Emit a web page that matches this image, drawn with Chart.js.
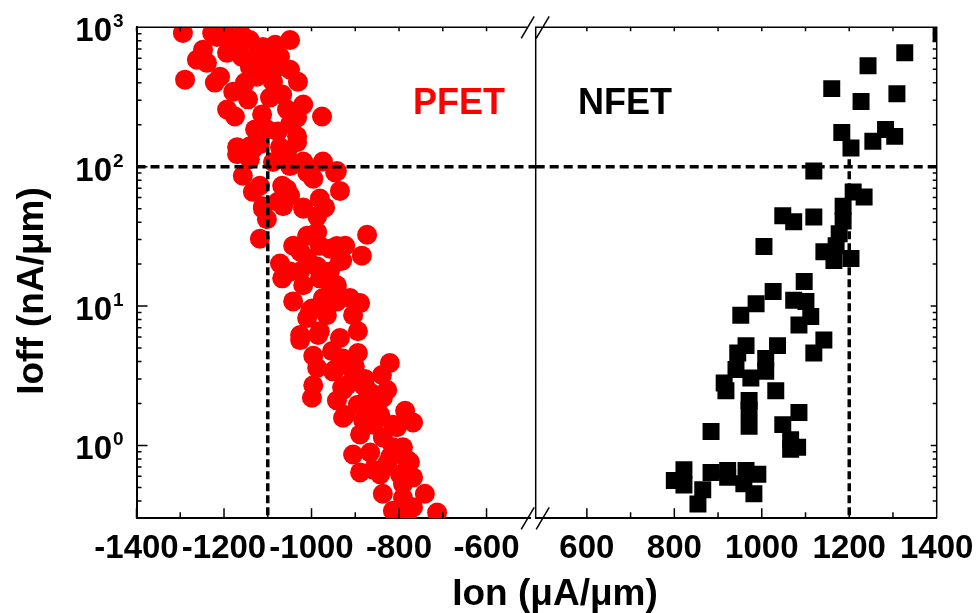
<!DOCTYPE html>
<html>
<head>
<meta charset="utf-8">
<script src="https://cdn.jsdelivr.net/npm/chart.js@4.4.1/dist/chart.umd.min.js"></script>
<style>
  body { margin: 0; background: #fff; }
  #wrap { position: relative; width: 978px; height: 613px; }
  #wrap canvas { position: absolute; left: 0; top: 0; }
</style>
</head>
<body>
<div id="wrap">
  <canvas id="pfetChart" width="978" height="613"></canvas>
  <canvas id="nfetChart" width="978" height="613"></canvas>
</div>
<script>
// PFET: Ion (uA/um) vs Ioff (nA/um)
const pfetIon = [
  -1294, -1227, -1193, -1159, -1248, -1262, -1289, -1221, -1209, -1179, -1193, -1175,
  -1193, -1159, -1141, -1111, -1083, -1072, -1049, -1077, -1125, -1152, -1088, -1031,
  -1095, -1067, -1019, -1056, -1033, -976, -1113, -1102, -1077, -1033, -1170, -1141,
  -1118, -1072, -1179, -1216, -1141, -1239, -1125, -1100,
  -1168, -1129, -1106, -1049, -1145, -1049, -1129,
  -1170, -1141, -1056, -1019, -974, -942, -1003, -1049, -1088, -1157, -1134, -1118,
  -1067, -1049, -1077, -1111, -1102, -1019, -981, -969, -987, -935, -1118, -1042,
  -1010, -987, -981, -958, -923, -873, -885, -930, -1010, -1072, -1049, -987, -958, -1026,
  -1134, -1033, -1111, -1056, -1065, -1019, -996, -1010, -946, -996, -942, -935,
  -1026, -981, -942, -999, -958, -912, -1010, -981, -1026,
  -1067, -1019, -958, -1042, -1003, -974, -942, -889, -905, -965, -1026, -985,
  -935, -894, -996, -953, -928, -894, -987, -946, -905, -821, -839, -996, -930, -882,
  -827, -866,
  -951, -901, -928, -873, -923, -859, -805, -814, -782, -859, -791, -827, -843, -866,
  -919, -878,
  -999, -942, -894, -837, -786, -928, -882, -814, -768, -889, -837, -791,
  -905, -866, -821, -775, -889, -843, -798, -768, -837, -791, -741, -814, -768, -713, -782
];
const pfetIoff = [
  910, 910, 881, 881, 689, 585, 421, 401, 442, 345, 257, 229,
  656, 614, 521, 723, 748, 614, 811, 521, 442, 401, 407, 407,
  313, 329, 279, 257, 225, 229, 237, 185, 179, 165, 138, 140,
  145, 138, 689, 853, 811, 556, 620, 560,
  748, 585, 457, 496, 304, 202, 185,
  123, 113, 127, 109, 109, 93, 96, 101, 108, 86, 66, 73,
  73, 62, 56, 50, 42, 51, 59, 51, 44, 67, 30.4, 27.1,
  31.9, 34, 27.1, 25.8, 27.1, 32.5, 23.0, 21.2, 21.9, 20.2, 17.7, 19.2, 17.7, 24.6,
  134, 150, 52, 69, 52, 50, 82, 91, 91, 32, 27, 21,
  17.7, 15.8, 14.1, 9.6, 11.4, 11.4, 8.2, 6.6, 6.2,
  15.8, 14.1, 14.5, 10.8, 9.3, 11.4, 10.8, 10.5, 8.6, 8.6, 5.7, 6.2,
  5.9, 6.6, 4.4, 4.75, 4.2, 4.6, 3.6, 3.5, 3.4, 3.9, 3.2, 2.7, 2.6, 2.7,
  2.5, 2.4,
  3.4, 3.7, 2.5, 2.5, 1.65, 1.41, 1.35, 0.97, 0.79, 0.67, 0.53, 0.74, 1.66, 1.96,
  2.7, 3.0,
  2.2, 2.1, 1.96, 2.2, 1.77, 1.58, 1.51, 1.41, 1.46, 1.20, 1.14, 0.97,
  0.86, 0.89, 0.82, 0.76, 0.64, 0.62, 0.62, 0.59, 0.45, 0.42, 0.45, 0.34, 0.36, 0.33, 0.32
];

// NFET: Ion (uA/um) vs Ioff (nA/um)
const nfetIon = [
  1410, 1327, 1243, 1160, 1309, 1227, 1183, 1204, 1254, 1283, 1304, 1119,
  1234, 1209, 1186, 1048, 1073, 1119, 1186, 1177, 1170, 1005, 1142, 1204, 1165,
  1097, 1026, 987, 952, 1073, 1101, 1112, 1085, 1142, 1119, 1036, 1009, 1009,
  964, 945, 941, 975, 914, 918, 1032, 971, 971, 1085, 1048, 1066, 1066, 1082, 971,
  884, 822, 800, 822, 865, 854, 884, 922, 964, 991, 959, 982, 922
];
const nfetIoff = [
  900, 656, 530, 363, 334, 293, 176, 136, 152, 185, 165, 93,
  60.5, 65.7, 52, 44.4, 40.2, 43.6, 40.8, 33, 27.1, 26.7, 24.5, 21.9, 21.2,
  15.0, 12.7, 10.4, 8.6, 11.0, 10.8, 8.4, 7.3, 5.7, 4.6, 5.2, 4.2, 3.4,
  5.2, 4.6, 3.5, 3.05, 2.8, 2.47, 2.47, 2.1, 1.8, 1.72, 1.41, 1.10, 0.94, 0.97, 1.37,
  1.26, 0.67, 0.56, 0.52, 0.48, 0.38, 0.64, 0.66, 0.66, 0.62, 0.53, 0.45, 0.59
];

// axes
const pfetRange = [-1400, -500];
const nfetRange = [483, 1400];
const ioffRange = [0.316, 1000];
const pfetTicks = [-1400, -1200, -1000, -800, -600];
const pfetMinor = [-1300, -1100, -900, -700];
const nfetTicks = [600, 800, 1000, 1200, 1400];
const nfetMinor = [700, 900, 1100, 1300];
const decades = [0, 1, 2, 3];

// dashed guides
const ioffTarget = 100;
const pfetTarget = -1100;
const pfetGuideTop = 160;
const nfetTarget = 1200;
const nfetGuideTop = 115;

const FONT = '"Liberation Sans", Arial, Helvetica, sans-serif';
const AREA_TOP = 27.3, X_AXIS_H = 94.7;

function minorLogValues(min, max) {
  const out = [];
  for (let k = -1; k <= 3; k++) {
    for (let m = 2; m <= 9; m++) {
      const v = m * Math.pow(10, k);
      if (v > min && v < max) out.push(v);
    }
  }
  return out;
}

function xTicks(ctx, xs, a, major, minor) {
  major.forEach(v => {
    const px = xs.getPixelForValue(v);
    ctx.moveTo(px, a.bottom); ctx.lineTo(px, a.bottom - 10);
    ctx.moveTo(px, a.top); ctx.lineTo(px, a.top + 4);
  });
  minor.forEach(v => {
    const px = xs.getPixelForValue(v);
    ctx.moveTo(px, a.bottom); ctx.lineTo(px, a.bottom - 6);
    ctx.moveTo(px, a.top); ctx.lineTo(px, a.top + 4);
  });
}

const pfetDecor = {
  id: 'pfetDecor',
  afterDraw(chart) {
    const { ctx, chartArea: a, scales: { x, y } } = chart;
    ctx.save();
    ctx.strokeStyle = '#000';
    ctx.lineWidth = 1.5;
    ctx.beginPath();
    ctx.moveTo(a.left, a.top); ctx.lineTo(a.right - 3, a.top);
    xTicks(ctx, x, a, pfetTicks, pfetMinor);
    decades.forEach(k => {
      const py = y.getPixelForValue(Math.pow(10, k));
      ctx.moveTo(a.left, py); ctx.lineTo(a.left + 11, py);
    });
    minorLogValues(ioffRange[0], ioffRange[1]).forEach(v => {
      const py = y.getPixelForValue(v);
      ctx.moveTo(a.left, py); ctx.lineTo(a.left + 5, py);
    });
    ctx.stroke();

    ctx.fillStyle = '#000';
    ctx.textBaseline = 'alphabetic';
    decades.forEach(k => {
      const py = y.getPixelForValue(Math.pow(10, k));
      ctx.font = 'bold 33px ' + FONT; ctx.textAlign = 'right';
      ctx.fillText('10', 112, py + 14);
      ctx.font = 'bold 19px ' + FONT; ctx.textAlign = 'left';
      ctx.fillText(String(k), 113, py);
    });

    ctx.font = 'bold 37px ' + FONT;
    ctx.textAlign = 'center';
    ctx.fillText('Ion (μA/μm)', 555, 605);
    ctx.save();
    ctx.translate(43, 291);
    ctx.rotate(-Math.PI / 2);
    ctx.fillText('Ioff (nA/μm)', 0, 0);
    ctx.restore();

    ctx.fillStyle = '#ff0000';
    ctx.font = 'bold 36px ' + FONT;
    ctx.textAlign = 'left';
    ctx.fillText('PFET', 413, 114);
    ctx.restore();
  }
};

const nfetDecor = {
  id: 'nfetDecor',
  afterDraw(chart) {
    const { ctx, chartArea: a, scales: { x, y } } = chart;
    ctx.save();
    ctx.strokeStyle = '#000';
    ctx.lineWidth = 1.5;
    ctx.beginPath();
    ctx.moveTo(a.left, a.bottom); ctx.lineTo(a.left, a.top);
    ctx.lineTo(a.right, a.top); ctx.lineTo(a.right, a.bottom);
    xTicks(ctx, x, a, nfetTicks, nfetMinor);
    decades.forEach(k => {
      const py = y.getPixelForValue(Math.pow(10, k));
      ctx.moveTo(a.right, py); ctx.lineTo(a.right - 6, py);
    });
    minorLogValues(ioffRange[0], ioffRange[1]).forEach(v => {
      const py = y.getPixelForValue(v);
      ctx.moveTo(a.right, py); ctx.lineTo(a.right - 4, py);
    });
    // axis break marks
    [a.top, a.bottom].forEach(cy => {
      [-8, 7].forEach(dx => {
        ctx.moveTo(a.left + dx - 6.5, cy + 11);
        ctx.lineTo(a.left + dx + 6.5, cy - 11);
      });
    });
    ctx.stroke();

    ctx.fillStyle = '#000';
    ctx.font = 'bold 36px ' + FONT;
    ctx.textAlign = 'left';
    ctx.textBaseline = 'alphabetic';
    ctx.fillText('NFET', 578, 114);
    ctx.restore();
  }
};

function xScale(range, ticks) {
  return {
    type: 'linear', min: range[0], max: range[1],
    afterBuildTicks: s => { s.ticks = ticks.map(v => ({ value: v })); },
    afterFit: s => { s.height = X_AXIS_H; s.paddingLeft = 0; s.paddingRight = 0; },
    grid: { display: false, drawTicks: false },
    border: { display: true, width: 2, color: '#000' },
    ticks: { color: '#000', padding: 11, maxRotation: 0, autoSkip: false,
             callback: v => String(v),
             font: { family: FONT, size: 33, weight: 'bold' } }
  };
}

function guide(points, dash) {
  return { type: 'line', data: points, borderColor: '#000', borderWidth: 3.5,
           borderDash: dash, pointRadius: 0, fill: false, clip: false, order: 1 };
}

new Chart(document.getElementById('pfetChart'), {
  type: 'scatter',
  data: {
    datasets: [
      { label: 'PFET', data: pfetIon.map((v, i) => ({ x: v, y: pfetIoff[i] })),
        pointStyle: 'circle', pointRadius: 10, backgroundColor: '#ff0000',
        borderWidth: 0, clip: 0, order: 2 },
      guide([{ x: pfetRange[0], y: ioffTarget }, { x: -488, y: ioffTarget }], [9, 5]),
      guide([{ x: pfetTarget, y: ioffRange[0] }, { x: pfetTarget, y: pfetGuideTop }], [8, 4])
    ]
  },
  options: {
    responsive: false, animation: false, events: [],
    layout: { padding: { left: 0, top: AREA_TOP, right: 978 - 530.3, bottom: 0 } },
    plugins: { legend: { display: false }, tooltip: { enabled: false } },
    scales: {
      x: xScale(pfetRange, pfetTicks),
      y: { type: 'logarithmic', min: ioffRange[0], max: ioffRange[1],
           afterFit: s => { s.width = 136.5; },
           grid: { display: false, drawTicks: false },
           border: { display: true, width: 2, color: '#000' },
           ticks: { display: false } }
    }
  },
  plugins: [pfetDecor]
});

new Chart(document.getElementById('nfetChart'), {
  type: 'scatter',
  data: {
    datasets: [
      { label: 'NFET', data: nfetIon.map((v, i) => ({ x: v, y: nfetIoff[i] })),
        pointStyle: 'rect', pointRadius: 12, backgroundColor: '#000',
        borderWidth: 0, clip: 0, order: 2 },
      guide([{ x: nfetRange[0], y: ioffTarget }, { x: nfetRange[1], y: ioffTarget }], [9, 5]),
      guide([{ x: nfetTarget, y: ioffRange[0] }, { x: nfetTarget, y: nfetGuideTop }], [8, 4])
    ]
  },
  options: {
    responsive: false, animation: false, events: [],
    layout: { padding: { left: 535.7, top: AREA_TOP, right: 978 - 936.7, bottom: 0 } },
    plugins: { legend: { display: false }, tooltip: { enabled: false } },
    scales: {
      x: xScale(nfetRange, nfetTicks),
      y: { type: 'logarithmic', min: ioffRange[0], max: ioffRange[1], display: false }
    }
  },
  plugins: [nfetDecor]
});
</script>
</body>
</html>
